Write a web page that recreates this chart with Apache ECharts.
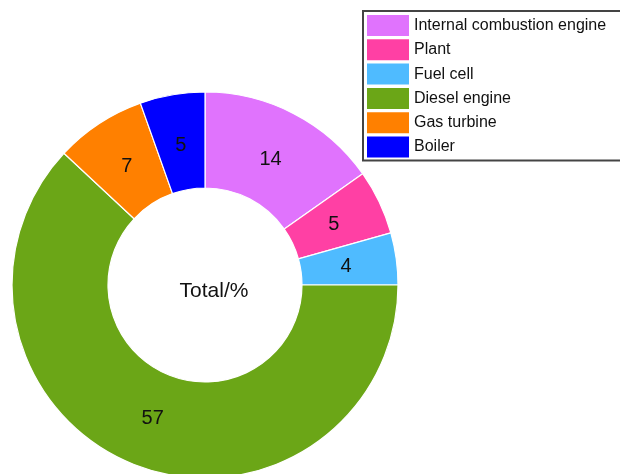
<!DOCTYPE html>
<html>
<head>
<meta charset="utf-8">
<script src="https://cdn.jsdelivr.net/npm/echarts@6/dist/echarts.min.js"></script>
<style>
  html, body { margin: 0; padding: 0; background: #fff; }
  #chart { width: 620px; height: 474px; }
</style>
</head>
<body>
<div id="chart"></div>
<script>
// Share of each power source (%), drawn clockwise from 12 o'clock
const categories = ['Internal combustion engine', 'Plant', 'Fuel cell', 'Diesel engine', 'Gas turbine', 'Boiler'];
const values = [14, 5, 4, 57, 7, 5];
const colors = ['#E073FD', '#FF40A4', '#4FBBFF', '#6BA617', '#FF8000', '#0000FF'];
const centerText = 'Total/%';

const FONT = '"Liberation Sans", Arial, Helvetica, sans-serif';
const CENTER = [205, 285];

const pieData = categories.map((name, i) => ({ name: name, value: values[i] }));

const chart = echarts.init(document.getElementById('chart'), null, { renderer: 'canvas' });

chart.setOption({
  backgroundColor: '#ffffff',
  animation: false,
  color: colors,
  legend: {
    orient: 'vertical',
    left: 363,
    top: 11,
    padding: [4, 40, 3, 4],
    itemWidth: 42,
    itemHeight: 21,
    itemGap: 3.3,
    icon: 'rect',
    borderColor: '#444444',
    borderWidth: 2,
    data: categories,
    itemStyle: { borderWidth: 0 },
    textStyle: {
      fontFamily: FONT,
      fontSize: 16,
      color: '#111111',
      padding: [6, 0, 0, 0]
    }
  },
  graphic: [{
    type: 'text',
    x: 214,
    y: 291,
    silent: true,
    style: {
      text: centerText,
      fontFamily: FONT,
      fontSize: 21,
      fill: '#111111',
      align: 'center',
      verticalAlign: 'middle'
    }
  }],
  series: [
    {
      // the coloured ring
      type: 'pie',
      center: CENTER,
      radius: [97, 193],
      startAngle: 90,
      clockwise: true,
      avoidLabelOverlap: false,
      itemStyle: { borderColor: '#ffffff', borderWidth: 1.2 },
      label: { show: false },
      labelLine: { show: false },
      emphasis: { disabled: true },
      data: pieData
    },
    {
      // value labels, sitting a little inside the ring's mid-line
      type: 'pie',
      center: CENTER,
      radius: [88, 191],
      startAngle: 90,
      clockwise: true,
      silent: true,
      avoidLabelOverlap: false,
      itemStyle: { color: 'rgba(0,0,0,0)', borderWidth: 0 },
      label: {
        show: true,
        position: 'inside',
        formatter: '{c}',
        fontFamily: FONT,
        fontSize: 20,
        color: '#111111'
      },
      labelLayout: { dy: 1 },
      labelLine: { show: false },
      emphasis: { disabled: true },
      data: pieData
    }
  ]
});
</script>
</body>
</html>
